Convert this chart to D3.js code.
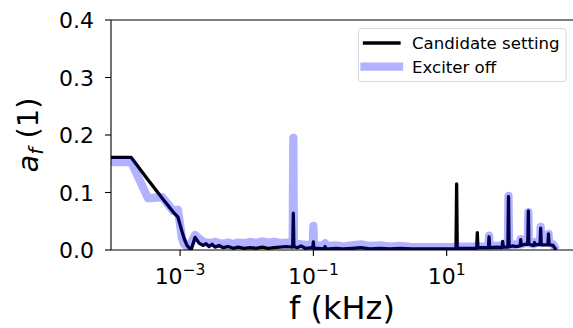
<!DOCTYPE html>
<html>
<head>
<meta charset="utf-8">
<script src="https://cdn.jsdelivr.net/npm/d3@7/dist/d3.min.js"></script>
<style>
  html, body { margin: 0; padding: 0; background: #fff; }
  svg { display: block; font-family: 'DejaVu Sans', sans-serif; }
</style>
</head>
<body>
<svg id="chart" width="573" height="328"></svg>
<script>
// frequency (kHz), shared by both series
const freq = [
  9.2e-5, 1.85e-4, 3.3e-4, 5.4e-4, 7.9e-4, 9.3e-4, 1.07e-3, 1.15e-3, 1.27e-3, 1.46e-3,
  1.68e-3, 1.93e-3, 2.21e-3, 2.45e-3, 2.72e-3, 3.02e-3, 3.35e-3, 3.85e-3, 4.42e-3, 5.25e-3,
  6.24e-3, 7.41e-3, 9.12e-3, 0.0112, 0.0138, 0.017, 0.0209, 0.0257, 0.0316, 0.0389,
  0.049, 0.05, 0.051, 0.057, 0.0655, 0.075, 0.098, 0.1, 0.102, 0.118,
  0.147, 0.15, 0.153, 0.172, 0.219, 0.279, 0.38, 0.519, 0.708, 1.0,
  1.41, 2.0, 3.02, 5.62, 13.8, 14.1, 14.4, 22.4, 28.2, 28.8,
  29.4, 42.3, 43.2, 44.1, 56.9, 67.8, 69.2, 70.6, 82.9, 84.6,
  86.3, 98.9, 110, 126.5, 129, 131.5, 150, 164.5, 168, 171,
  197, 204, 208, 212, 247, 252, 257, 262, 309, 330,
  337, 344, 355, 394, 437
];
const candidate = [
  0.161, 0.161, 0.122, 0.090, 0.066, 0.057, 0.032, 0.020, 0.008, 0.000,
  0.022, 0.012, 0.008, 0.011, 0.006, 0.010, 0.005, 0.008, 0.004, 0.006,
  0.003, 0.005, 0.003, 0.004, 0.003, 0.005, 0.003, 0.004, 0.005, 0.006,
  0.005, 0.064, 0.006, 0.004, 0.007, 0.003, 0.004, 0.014, 0.003, 0.003,
  0.002, 0.006, 0.002, 0.002, 0.003, 0.002, 0.003, 0.004, 0.002, 0.003,
  0.002, 0.003, 0.002, 0.002, 0.002, 0.115, 0.003, 0.003, 0.003, 0.030,
  0.004, 0.004, 0.023, 0.004, 0.005, 0.004, 0.015, 0.005, 0.005, 0.093,
  0.006, 0.007, 0.006, 0.007, 0.018, 0.008, 0.010, 0.010, 0.068, 0.010,
  0.008, 0.008, 0.013, 0.009, 0.010, 0.010, 0.038, 0.009, 0.009, 0.009,
  0.028, 0.009, 0.009, 0.008, 0.000
];
const exciterOff = [
  0.153, 0.153, 0.090, 0.092, 0.068, 0.070, 0.020, 0.010, 0.006, 0.012,
  0.026, 0.020, 0.015, 0.013, 0.013, 0.012, 0.014, 0.012, 0.011, 0.013,
  0.010, 0.013, 0.012, 0.014, 0.012, 0.015, 0.013, 0.014, 0.012, 0.013,
  0.012, 0.195, 0.012, 0.010, 0.010, 0.009, 0.009, 0.042, 0.008, 0.008,
  0.007, 0.012, 0.007, 0.007, 0.008, 0.006, 0.008, 0.010, 0.007, 0.008,
  0.006, 0.007, 0.005, 0.005, 0.005, 0.006, 0.006, 0.006, 0.006, 0.008,
  0.006, 0.006, 0.025, 0.007, 0.007, 0.008, 0.009, 0.008, 0.008, 0.094,
  0.008, 0.009, 0.010, 0.010, 0.019, 0.010, 0.012, 0.012, 0.066, 0.012,
  0.010, 0.010, 0.014, 0.012, 0.013, 0.013, 0.040, 0.013, 0.014, 0.014,
  0.028, 0.013, 0.013, 0.010, 0.000
];
const xDomain = [9.2e-5, 813];
const yDomain = [0, 0.4];
const xTicks = [1e-3, 1e-1, 1e1];
const yTicks = [0, 0.1, 0.2, 0.3, 0.4];
const seriesNames = ['Candidate setting', 'Exciter off'];

const svg = d3.select('#chart');
const mLeft = 111, mRight = 574, mTop = 20, mBottom = 250;

const x = d3.scaleLog().domain(xDomain).range([mLeft, mRight]);
const y = d3.scaleLinear().domain(yDomain).range([mBottom, mTop]);

svg.append('defs').append('clipPath').attr('id', 'plotclip')
  .append('rect')
  .attr('x', mLeft).attr('y', mTop)
  .attr('width', mRight - mLeft).attr('height', mBottom - mTop);

// lines: black first, translucent blue on top
const line = vals => d3.line()
  .x((d, i) => x(freq[i]))
  .y(d => y(d))(vals);

const plot = svg.append('g').attr('clip-path', 'url(#plotclip)');
plot.append('path')
  .attr('d', line(candidate))
  .attr('fill', 'none')
  .attr('stroke', '#000')
  .attr('stroke-width', 3.3)
  .attr('stroke-linejoin', 'round');
plot.append('path')
  .attr('d', line(exciterOff))
  .attr('fill', 'none')
  .attr('stroke', 'blue')
  .attr('stroke-opacity', 0.3)
  .attr('stroke-width', 8.3)
  .attr('stroke-linejoin', 'round');

// spines
const spines = svg.append('g').attr('stroke', '#000').attr('stroke-width', 1.1);
spines.append('line').attr('x1', mLeft).attr('x2', mLeft).attr('y1', mTop).attr('y2', mBottom);
spines.append('line').attr('x1', mLeft).attr('x2', mRight).attr('y1', mTop).attr('y2', mTop);
spines.append('line').attr('x1', mLeft).attr('x2', mRight).attr('y1', mBottom).attr('y2', mBottom);
spines.append('line').attr('x1', mRight).attr('x2', mRight).attr('y1', mTop).attr('y2', mBottom);

// x axis
const xAxis = svg.append('g');
xTicks.forEach(t => {
  const px = x(t);
  const p = Math.round(Math.log10(t));
  xAxis.append('line')
    .attr('x1', px).attr('x2', px)
    .attr('y1', mBottom).attr('y2', mBottom + 6)
    .attr('stroke', '#000').attr('stroke-width', 1.1);
  const txt = xAxis.append('text')
    .attr('x', px).attr('y', 284)
    .attr('text-anchor', 'middle')
    .attr('font-size', 22)
    .attr('fill', '#000');
  txt.append('tspan').text('10');
  txt.append('tspan')
    .attr('font-size', 15.5)
    .attr('dy', -9)
    .text((p < 0 ? '\u2212' : '') + Math.abs(p));
});

// y axis
const yAxis = svg.append('g');
yTicks.forEach(t => {
  const py = y(t);
  yAxis.append('line')
    .attr('x1', mLeft - 6).attr('x2', mLeft)
    .attr('y1', py).attr('y2', py)
    .attr('stroke', '#000').attr('stroke-width', 1.1);
  yAxis.append('text')
    .attr('x', 94).attr('y', py + 8)
    .attr('text-anchor', 'end')
    .attr('font-size', 22)
    .attr('fill', '#000')
    .text(d3.format('.1f')(t));
});

// axis labels
svg.append('text')
  .attr('x', 342).attr('y', 319)
  .attr('text-anchor', 'middle')
  .attr('font-size', 32)
  .text('f (kHz)');

const yl = svg.append('text')
  .attr('transform', 'translate(38,135) rotate(-90)')
  .attr('text-anchor', 'middle')
  .attr('font-size', 29);
yl.append('tspan').attr('font-style', 'italic').text('a');
yl.append('tspan').attr('font-style', 'italic').attr('font-size', 20).attr('dy', 5).text('f');
yl.append('tspan').attr('dy', -5).text('\u00a0(1)');

// legend
const lg = svg.append('g');
lg.append('rect')
  .attr('x', 358.5).attr('y', 28.5)
  .attr('width', 207.5).attr('height', 53)
  .attr('rx', 3)
  .attr('fill', '#fff').attr('fill-opacity', 0.8)
  .attr('stroke', '#d6d6d6').attr('stroke-width', 1);
lg.append('line')
  .attr('x1', 364.5).attr('x2', 399).attr('y1', 43).attr('y2', 43)
  .attr('stroke', '#000').attr('stroke-width', 3.3).attr('stroke-linecap', 'square');
lg.append('line')
  .attr('x1', 364.5).attr('x2', 399).attr('y1', 66.7).attr('y2', 66.7)
  .attr('stroke', 'blue').attr('stroke-opacity', 0.3)
  .attr('stroke-width', 8.3).attr('stroke-linecap', 'square');
seriesNames.forEach((name, i) => {
  lg.append('text')
    .attr('x', 412).attr('y', i === 0 ? 49 : 72.7)
    .attr('font-size', 16.6)
    .attr('fill', '#000')
    .text(name);
});
</script>
</body>
</html>
